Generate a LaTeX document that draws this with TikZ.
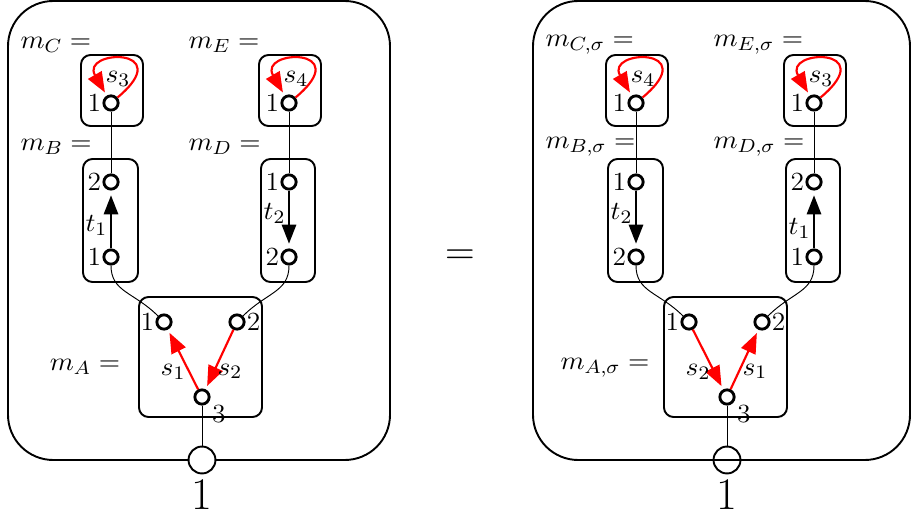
\documentclass[tikz,border=0pt]{standalone}
\usepackage{amsmath}
\usepackage{amssymb}
\usetikzlibrary{arrows.meta}

\begin{document}
\begin{tikzpicture}[x=0.42pt,y=0.42pt]

    % --- Global Settings ---
    \tikzset{
        port/.style={circle, draw, line width=1.2pt, fill=white, inner sep=0pt, minimum size=6pt},
        outport/.style={circle, draw, line width=0.8pt, inner sep=0pt, minimum size=11.3pt},
        portlabel/.style={inner sep=0.3pt, xscale=1.05, font=\fontsize{11}{13}\selectfont},
        edgelabel/.style={inner sep=1pt, text=black, xscale=1.05, font=\fontsize{11}{13}\selectfont},
        mlabel/.style={anchor=west, inner sep=0pt, xscale=1.05, font=\fontsize{11}{13}\selectfont},
        framestyle/.style={line width=0.8pt, rounded corners=19pt},
        boxstyle/.style={line width=0.8pt, rounded corners=4pt},
        wire/.style={thin},
        redarrow/.style={-{Triangle[length=8.5pt,width=6.5pt]}, red, line width=0.9pt, shorten >=1.5pt},
        blackarrow/.style={-{Triangle[length=8pt,width=6pt]}, line width=0.9pt, shorten >=2pt}
    }

    \useasboundingbox (0,0) rectangle (911,523);

    % --- Panel 1: m ---
    \begin{scope}
        \draw[framestyle] (8,522) rectangle (390,63);
        \draw[boxstyle] (81,397) rectangle (143,468);   % m_C
        \draw[boxstyle] (259,397) rectangle (321,468);  % m_E
        \draw[boxstyle] (83,241) rectangle (138,364);   % m_B
        \draw[boxstyle] (261,241) rectangle (315,364);  % m_D
        \draw[boxstyle] (139,106) rectangle (262,226);  % m_A

        \node[mlabel] (lC) at (20,478) {$m_C =$};
        \node[mlabel] (lE) at (188,478) {$m_E =$};
        \node[mlabel] (lB) at (20,376) {$m_B =$};
        \node[mlabel] (lD) at (188,376) {$m_D =$};
        \node[edgelabel] (lA) at (85,156) {$m_A =$};

        \node[port, label={[portlabel]left:1}] (C1) at (111,420) {};
        \node[port, label={[portlabel]left:1}] (E1) at (289,420) {};
        \node[port, label={[portlabel]left:2}] (B2) at (111,341) {};
        \node[port, label={[portlabel]left:1}] (B1) at (111,266) {};
        \node[port, label={[portlabel]left:1}] (D1) at (289,341) {};
        \node[port, label={[portlabel]left:2}] (D2) at (289,266) {};
        \node[port, label={[portlabel]left:1}] (A1) at (164,201) {};
        \node[port, label={[portlabel]right:2}] (A2) at (237,201) {};
        \node[port, label={[portlabel, inner sep=1pt]-35:3}] (A3) at (202,126) {};
        \node[outport, fill=white, label={[inner sep=2pt, font=\fontsize{19}{20}\selectfont]below:1}] (O) at (202,63) {};

        % wires
        \draw[wire] (C1) -- (B2);
        \draw[wire] (E1) -- (D1);
        \draw[wire] (B1) .. controls +(0,-35) and +(-30,30) .. (A1);
        \draw[wire] (D2) .. controls +(0,-35) and +(30,30) .. (A2);
        \draw[wire] (A3) -- (O);

        % transitions
        \draw[blackarrow] (B1) -- node[edgelabel, left, pos=0.4] {$t_1$} (B2);
        \draw[blackarrow] (D1) -- node[edgelabel, left, pos=0.4] {$t_2$} (D2);
        \draw[redarrow] (A3) -- node[edgelabel, left, pos=0.3] {$s_1$} (A1);
        \draw[redarrow] (A2) -- node[edgelabel, right, pos=0.7] {$s_2$} (A3);
        \draw[redarrow] (C1) .. controls +(40:88) and +(120:62) .. (C1);
        \draw[redarrow] (E1) .. controls +(40:88) and +(120:62) .. (E1);
        \node[edgelabel] (s3) at (118,444) {$s_3$};
        \node[edgelabel] (s4) at (296,444) {$s_4$};
    \end{scope}

    \node[font=\fontsize{18}{20}\selectfont] (eq) at (460,266) {$=$};

    % --- Panel 2: m_sigma ---
    \begin{scope}[xshift=220.5pt]
        \draw[framestyle] (8,522) rectangle (385,63);
        \draw[boxstyle] (81,397) rectangle (143,468);   % m_C,sigma
        \draw[boxstyle] (259,397) rectangle (321,468);  % m_E,sigma
        \draw[boxstyle] (83,241) rectangle (138,364);   % m_B,sigma
        \draw[boxstyle] (261,241) rectangle (315,364);  % m_D,sigma
        \draw[boxstyle] (139,106) rectangle (262,226);  % m_A,sigma

        \node[mlabel] (rlC) at (20,478) {$m_{C,\sigma} =$};
        \node[mlabel] (rlE) at (188,478) {$m_{E,\sigma} =$};
        \node[mlabel] (rlB) at (20,376) {$m_{B,\sigma} =$};
        \node[mlabel] (rlD) at (188,376) {$m_{D,\sigma} =$};
        \node[edgelabel] (rlA) at (80,155) {$m_{A,\sigma} =$};

        \node[port, label={[portlabel]left:1}] (rC1) at (111,420) {};
        \node[port, label={[portlabel]left:1}] (rE1) at (289,420) {};
        \node[port, label={[portlabel]left:1}] (rB1) at (111,341) {};
        \node[port, label={[portlabel]left:2}] (rB2) at (111,266) {};
        \node[port, label={[portlabel]left:2}] (rD2) at (289,341) {};
        \node[port, label={[portlabel]left:1}] (rD1) at (289,266) {};
        \node[port, label={[portlabel]left:1}] (rA1) at (164,201) {};
        \node[port, label={[portlabel]right:2}] (rA2) at (237,201) {};
        \node[port, label={[portlabel, inner sep=1pt]-35:3}] (rA3) at (202,126) {};
        \node[outport, label={[inner sep=2pt, font=\fontsize{19}{20}\selectfont]below:1}] (rO) at (202,63) {};

        % wires
        \draw[wire] (rC1) -- (rB1);
        \draw[wire] (rE1) -- (rD2);
        \draw[wire] (rB2) .. controls +(0,-35) and +(-30,30) .. (rA1);
        \draw[wire] (rD1) .. controls +(0,-35) and +(30,30) .. (rA2);
        \draw[wire] (rA3) -- (rO);

        % transitions
        \draw[blackarrow] (rB1) -- node[edgelabel, left, pos=0.4] {$t_2$} (rB2);
        \draw[blackarrow] (rD1) -- node[edgelabel, left, pos=0.35] {$t_1$} (rD2);
        \draw[redarrow] (rA1) -- node[edgelabel, left, pos=0.7] {$s_2$} (rA3);
        \draw[redarrow] (rA3) -- node[edgelabel, right, pos=0.3] {$s_1$} (rA2);
        \draw[redarrow] (rC1) .. controls +(40:88) and +(120:62) .. (rC1);
        \draw[redarrow] (rE1) .. controls +(40:88) and +(120:62) .. (rE1);
        \node[edgelabel] (rs4) at (118,444) {$s_4$};
        \node[edgelabel] (rs3) at (296,444) {$s_3$};
    \end{scope}

\end{tikzpicture}
\end{document}
